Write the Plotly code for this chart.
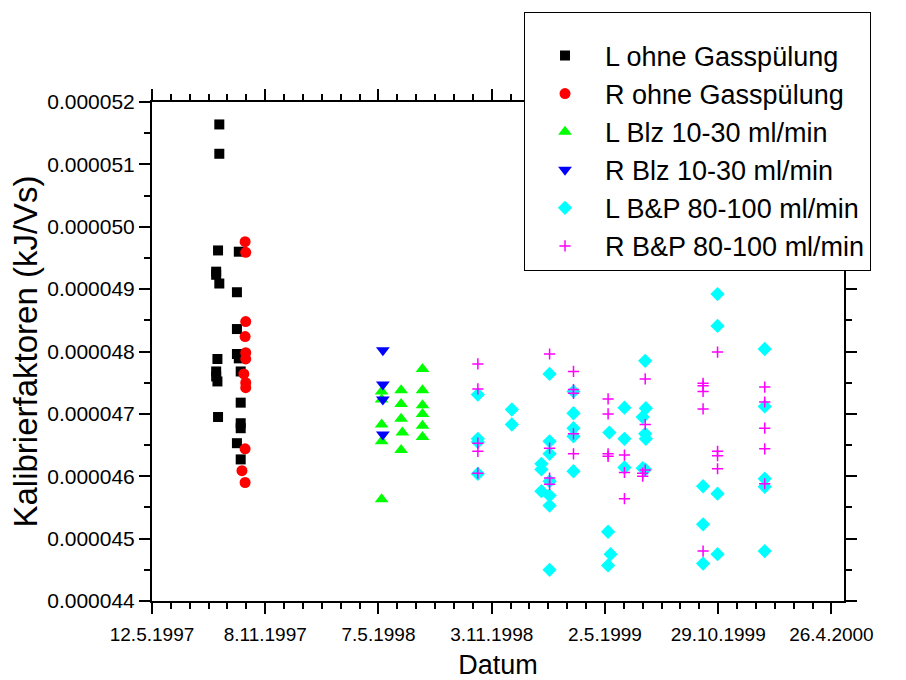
import plotly.graph_objects as go
from datetime import date, timedelta

# ---------------- data ----------------
l_ohne_dates = ["1997-08-27", "1997-08-27", "1997-08-25", "1997-09-27", "1997-08-22", "1997-08-22",
                "1997-08-27", "1997-09-24", "1997-09-24", "1997-09-24", "1997-09-27", "1997-08-24",
                "1997-08-22", "1997-08-24", "1997-08-22", "1997-09-30", "1997-09-30", "1997-08-25",
                "1997-09-30", "1997-09-30", "1997-09-24", "1997-09-30"]
l_ohne_vals = [51.64e-6, 51.17e-6, 49.62e-6, 49.60e-6, 49.28e-6, 49.23e-6,
               49.09e-6, 48.95e-6, 48.36e-6, 47.96e-6, 47.89e-6, 47.88e-6,
               47.68e-6, 47.52e-6, 47.60e-6, 47.68e-6, 47.18e-6, 46.95e-6,
               46.85e-6, 46.77e-6, 46.53e-6, 46.27e-6]

r_ohne_dates = ["1997-10-07", "1997-10-08", "1997-10-08", "1997-10-07", "1997-10-08", "1997-10-08",
                "1997-10-05", "1997-10-08", "1997-10-08", "1997-10-07", "1997-10-02", "1997-10-07"]
r_ohne_vals = [49.76e-6, 49.59e-6, 48.48e-6, 48.24e-6, 47.98e-6, 47.88e-6,
               47.64e-6, 47.50e-6, 47.42e-6, 46.44e-6, 46.09e-6, 45.90e-6]

l_blz_dates = ["1998-05-12", "1998-05-12", "1998-05-12", "1998-05-12", "1998-05-12",
               "1998-06-12", "1998-06-12", "1998-06-12", "1998-06-14", "1998-06-12",
               "1998-07-16", "1998-07-16", "1998-07-16", "1998-07-16", "1998-07-16", "1998-07-16"]
l_blz_vals = [47.36e-6, 47.23e-6, 46.83e-6, 46.56e-6, 45.63e-6,
              47.38e-6, 47.16e-6, 46.92e-6, 46.70e-6, 46.42e-6,
              47.72e-6, 47.38e-6, 47.14e-6, 47.00e-6, 46.81e-6, 46.63e-6]

r_blz_dates = ["1998-05-14", "1998-05-14", "1998-05-14", "1998-05-14"]
r_blz_vals = [48.02e-6, 47.47e-6, 47.23e-6, 46.67e-6]

l_bp_dates = ["1998-10-12", "1998-10-12", "1998-10-12", "1998-10-12",
              "1998-12-05", "1998-12-05",
              "1999-02-03", "1999-02-03", "1999-02-03", "1999-02-03", "1999-02-03", "1999-02-03", "1999-02-03",
              "1999-01-21", "1999-01-21", "1999-01-21",
              "1999-03-13", "1999-03-13", "1999-03-13", "1999-03-13", "1999-03-13",
              "1999-05-09", "1999-05-07", "1999-05-11", "1999-05-07",
              "1999-06-02", "1999-06-02", "1999-06-02",
              "1999-07-05", "1999-07-06", "1999-07-05", "1999-07-06", "1999-07-05", "1999-07-01", "1999-07-01",
              "1999-10-05", "1999-10-05", "1999-10-05",
              "1999-10-28", "1999-10-28", "1999-10-28", "1999-10-28",
              "2000-01-11", "2000-01-11", "2000-01-11", "2000-01-11", "2000-01-11"]
l_bp_vals = [47.31e-6, 46.60e-6, 46.55e-6, 46.04e-6,
             47.07e-6, 46.83e-6,
             47.64e-6, 46.56e-6, 46.36e-6, 45.92e-6, 45.69e-6, 45.53e-6, 44.50e-6,
             46.20e-6, 46.11e-6, 45.76e-6,
             47.36e-6, 47.01e-6, 46.77e-6, 46.64e-6, 46.08e-6,
             46.70e-6, 45.11e-6, 44.75e-6, 44.57e-6,
             47.10e-6, 46.60e-6, 46.14e-6,
             47.85e-6, 47.09e-6, 46.68e-6, 46.60e-6, 46.11e-6, 46.95e-6, 46.13e-6,
             45.84e-6, 45.23e-6, 44.60e-6,
             48.92e-6, 48.41e-6, 45.72e-6, 44.75e-6,
             48.04e-6, 47.12e-6, 45.96e-6, 45.83e-6, 44.80e-6]

r_bp_dates = ["1998-10-12", "1998-10-12", "1998-10-12", "1998-10-12", "1998-10-12",
              "1999-02-03", "1999-02-03", "1999-02-03", "1999-02-03",
              "1999-03-13", "1999-03-13", "1999-03-13", "1999-03-13", "1999-03-13",
              "1999-05-07", "1999-05-07", "1999-05-07", "1999-05-07",
              "1999-06-02", "1999-06-02", "1999-06-02",
              "1999-07-05", "1999-07-05", "1999-07-05", "1999-07-01", "1999-07-01",
              "1999-10-05", "1999-10-05", "1999-10-05", "1999-10-05", "1999-10-05",
              "1999-10-28", "1999-10-28", "1999-10-28", "1999-10-28",
              "2000-01-11", "2000-01-11", "2000-01-11", "2000-01-11", "2000-01-11"]
r_bp_vals = [47.80e-6, 47.40e-6, 46.53e-6, 46.40e-6, 46.05e-6,
             47.96e-6, 46.45e-6, 45.97e-6, 45.87e-6,
             47.68e-6, 47.39e-6, 47.33e-6, 46.68e-6, 46.36e-6,
             47.24e-6, 47.00e-6, 46.36e-6, 46.32e-6,
             46.34e-6, 46.06e-6, 45.64e-6,
             47.56e-6, 46.83e-6, 46.10e-6, 46.05e-6, 46.00e-6,
             47.49e-6, 47.45e-6, 47.36e-6, 47.08e-6, 44.80e-6,
             47.99e-6, 46.40e-6, 46.33e-6, 46.12e-6,
             47.43e-6, 47.19e-6, 46.77e-6, 46.44e-6, 45.88e-6]

series_names = ["L ohne Gasspülung", "R ohne Gasspülung", "L Blz 10-30 ml/min",
                "R Blz 10-30 ml/min", "L B&P 80-100 ml/min", "R B&P 80-100 ml/min"]

x_tick_labels = ["12.5.1997", "8.11.1997", "7.5.1998", "3.11.1998",
                 "2.5.1999", "29.10.1999", "26.4.2000"]
x_start = date(1997, 5, 12)
x_tick_step_days = 180
x_end = "2000-05-16"

# ---------------- figure ----------------
FONT = "Arial, Liberation Sans, sans-serif"
fig = go.Figure()

fig.add_trace(go.Scatter(x=l_ohne_dates, y=l_ohne_vals, mode="markers", name=series_names[0],
                         marker=dict(symbol="square", size=10, color="black")))
fig.add_trace(go.Scatter(x=r_ohne_dates, y=r_ohne_vals, mode="markers", name=series_names[1],
                         marker=dict(symbol="circle", size=11, color="red")))
fig.add_trace(go.Scatter(x=l_blz_dates, y=l_blz_vals, mode="markers", name=series_names[2],
                         marker=dict(symbol="triangle-up", size=12, color="#00ff00")))
fig.add_trace(go.Scatter(x=r_blz_dates, y=r_blz_vals, mode="markers", name=series_names[3],
                         marker=dict(symbol="triangle-down", size=12, color="blue")))
fig.add_trace(go.Scatter(x=l_bp_dates, y=l_bp_vals, mode="markers", name=series_names[4],
                         marker=dict(symbol="diamond", size=11, color="cyan")))
fig.add_trace(go.Scatter(x=r_bp_dates, y=r_bp_vals, mode="markers", name=series_names[5],
                         marker=dict(symbol="cross-thin", size=8, color="magenta",
                                     line=dict(color="magenta", width=1.5))))

tickvals = [(x_start + timedelta(days=x_tick_step_days * i)).isoformat() for i in range(len(x_tick_labels))]

fig.update_layout(
    width=906, height=680,
    margin=dict(l=152, r=62, t=102, b=79),
    paper_bgcolor="white", plot_bgcolor="white",
    font=dict(family=FONT, color="black", size=18),
    showlegend=True,
    legend=dict(
        x=0.5376, y=1.18, xanchor="left", yanchor="top",
        bgcolor="white", bordercolor="black", borderwidth=1,
        font=dict(family=FONT, size=27, color="black"),
        itemwidth=70,
        title=dict(text=" ", font=dict(size=14)),
    ),
    xaxis=dict(
        type="date", automargin=False,
        range=[x_start.isoformat(), x_end],
        tickmode="array", tickvals=tickvals, ticktext=x_tick_labels,
        ticks="outside", ticklen=11, tickwidth=2, tickcolor="black",
        showline=True, linecolor="black", linewidth=2, mirror="ticks",
        showgrid=False, zeroline=False,
        tickfont=dict(family=FONT, size=19),
        ticklabelstandoff=4,
        minor=dict(ticks="outside", ticklen=6, tickwidth=2, tickcolor="black",
                   tick0=x_start.isoformat(), dtick=30 * 86400000, showgrid=False),
        title=dict(text="Datum", font=dict(family=FONT, size=27), standoff=12),
    ),
    yaxis=dict(
        automargin=False,
        range=[44e-6, 52e-6],
        tick0=44e-6, dtick=1e-6, tickformat=".6f",
        ticks="outside", ticklen=11, tickwidth=2, tickcolor="black",
        showline=True, linecolor="black", linewidth=2, mirror="ticks",
        showgrid=False, zeroline=False,
        tickfont=dict(family=FONT, size=21),
        minor=dict(ticks="outside", ticklen=6, tickwidth=2, tickcolor="black",
                   dtick=0.5e-6, showgrid=False),
        title=dict(text="Kalibrierfaktoren (kJ/Vs)", font=dict(family=FONT, size=33), standoff=0),
    ),
)

fig.write_html("out.html")
